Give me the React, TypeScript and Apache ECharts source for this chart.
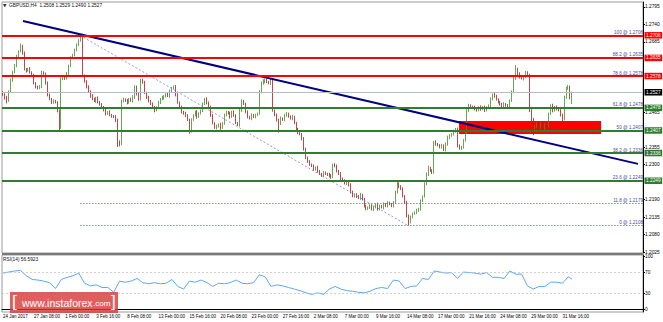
import React, { useEffect, useRef } from "react";
import * as echarts from "echarts";

const FONT = "'Liberation Sans', Arial, sans-serif";
const SLOTS = 330;
const TICK_STEP = 16;
const tickLabels = ["24 Jan 2017", "27 Jan 08:00", "1 Feb 00:00", "3 Feb 16:00", "8 Feb 08:00", "13 Feb 00:00", "15 Feb 16:00", "20 Feb 08:00", "23 Feb 00:00", "27 Feb 16:00", "2 Mar 08:00", "7 Mar 00:00", "9 Mar 16:00", "14 Mar 08:00", "17 Mar 00:00", "21 Mar 16:00", "24 Mar 08:00", "29 Mar 00:00", "31 Mar 16:00"];
// price-scale labels that are visible (the others sit under the level tags)
const yTicks = [1.2025, 1.208, 1.2135, 1.219, 1.23, 1.2355, 1.2465, 1.2685, 1.274, 1.2795];
const rsiTicks = [0, 30, 70, 100];
const Y_MIN = 1.20219;
const Y_MAX = 1.28107;

// prices in pips above 1.2000
const firstOpen = 525;
const closes = [
  520, 510, 500, 530, 565, 590, 610, 640, 655, 670,
  650, 600, 595, 600, 590, 580, 555, 545, 540, 545,
  590, 585, 555, 520, 505, 495, 500, 495, 470, 415,
  570, 575, 570, 585, 610, 635, 645, 660, 675, 690,
  700, 580, 560, 545, 530, 515, 505, 500, 510, 495,
  490, 480, 470, 460, 465, 455, 452, 450, 440, 370,
  365, 500, 505, 500, 495, 505, 500, 510, 545, 520,
  505, 565, 560, 525, 510, 500, 490, 480, 470, 480,
  495, 505, 510, 515, 520, 515, 530, 540, 545, 520,
  495, 480, 465, 460, 455, 440, 405, 440, 455, 465,
  450, 460, 470, 490, 505, 495, 480, 455, 430, 415,
  420, 425, 415, 430, 455, 465, 460, 450, 465, 455,
  430, 425, 470, 500, 490, 465, 450, 445, 455, 450,
  455, 460, 530, 555, 560, 565, 560, 555, 565, 470,
  455, 440, 430, 445, 440, 455, 460, 450, 445, 450,
  430, 410, 400, 395, 380, 350, 320, 310, 300, 295,
  285, 290, 280, 270, 265, 275, 270, 268, 265, 260,
  300, 295, 280, 270, 255, 250, 240, 245, 235, 215,
  200, 205, 200, 195, 205, 190, 170, 160, 165, 170,
  160, 165, 175, 160, 170, 165, 175, 170, 180, 175,
  170, 180, 215, 240, 230, 225, 200, 180, 140, 120,
  135, 145, 150, 155, 160, 185, 200, 240, 270, 290,
  280, 275, 370, 365, 360, 355, 360, 345, 365, 385,
  390, 395, 405, 410, 360, 350, 355, 375, 400, 470,
  485, 482, 480, 475, 470, 480, 475, 480, 470, 480,
  485, 505, 520, 515, 505, 495, 490, 480, 490, 485,
  480, 500, 530, 570, 600, 585, 575, 570, 575, 590,
  580, 470, 440, 410, 420, 430, 415, 430, 410, 425,
  420, 460, 485, 470, 480, 475, 470, 455, 445, 510,
  540, 545, 508, 527,
];
const wickHi = [
  5, 4, 6, 3, 5, 4, 6, 5, 4, 10, 6, 5, 3, 4, 6, 3, 5, 4, 3, 4,
  5, 3, 4, 6, 3, 4, 5, 3, 4, 3, 4, 5, 3, 6, 4, 5, 3, 4, 5, 4,
  6, 4, 3, 5, 4, 3, 6, 5, 3, 4, 5, 3, 4, 6, 3, 5, 4, 3, 5, 4,
  6, 4, 5, 3, 6, 4, 5, 8, 4, 3, 6, 4, 5, 3, 4, 6, 3, 5, 4, 3,
  5, 4, 6, 3, 4, 5, 6, 4, 3, 5, 4, 3, 5, 4, 6, 3, 4, 5, 3, 4,
  6, 4, 3, 5, 4, 6, 3, 5, 4, 3, 5, 4, 6, 3, 5, 4, 3, 6, 4, 5,
  3, 4, 6, 5, 3, 4, 5, 3, 6, 4, 5, 3, 4, 6, 8, 5, 4, 3, 5, 4,
  3, 5, 4, 6, 3, 4, 5, 3, 4, 6, 3, 4, 5, 3, 4, 6, 3, 5, 4, 3,
  5, 4, 6, 3, 4, 5, 3, 4, 6, 5, 3, 4, 5, 3, 6, 4, 3, 5, 4, 6,
  3, 4, 5, 4, 6, 3, 5, 4, 3, 5, 4, 6, 3, 5, 4, 3, 6, 4, 5, 3,
  4, 5, 3, 6, 4, 5, 3, 4, 6, 3, 5, 4, 3, 6, 4, 5, 3, 4, 5, 6,
  3, 5, 4, 6, 3, 4, 5, 3, 4, 6, 5, 3, 4, 5, 6, 3, 4, 5, 3, 4,
  6, 4, 3, 5, 4, 3, 6, 4, 5, 3, 4, 6, 3, 5, 4, 3, 5, 4, 6, 3,
  5, 4, 3, 6, 13, 4, 5, 3, 6, 4, 3, 5, 4, 6, 3, 4, 5, 3, 4, 6,
  5, 3, 4, 6, 4, 5, 3, 4, 5, 6, 4, 5, 3, 2,
];
const wickLo = [
  4, 6, 8, 3, 4, 5, 3, 4, 5, 3, 5, 4, 6, 3, 4, 5, 3, 6, 4, 3,
  5, 3, 4, 6, 3, 5, 4, 3, 6, 10, 3, 5, 4, 3, 6, 4, 3, 5, 4, 3,
  4, 5, 3, 6, 4, 5, 3, 4, 6, 3, 5, 4, 3, 6, 4, 3, 5, 4, 6, 15,
  8, 4, 5, 3, 6, 4, 3, 5, 4, 3, 5, 4, 6, 3, 4, 5, 3, 4, 6, 3,
  4, 5, 3, 6, 4, 3, 5, 4, 3, 6, 4, 3, 5, 4, 6, 3, 8, 5, 3, 4,
  6, 4, 3, 5, 4, 6, 3, 5, 4, 3, 5, 4, 6, 3, 5, 4, 3, 6, 4, 5,
  3, 4, 6, 5, 3, 4, 5, 3, 6, 4, 5, 3, 4, 6, 4, 5, 4, 3, 5, 4,
  3, 5, 30, 6, 3, 4, 5, 3, 4, 6, 3, 4, 5, 3, 4, 6, 3, 5, 4, 3,
  5, 4, 6, 3, 4, 5, 3, 4, 6, 5, 3, 4, 5, 3, 6, 4, 3, 5, 4, 6,
  3, 4, 5, 4, 6, 3, 5, 4, 3, 5, 4, 6, 3, 5, 4, 3, 6, 4, 5, 3,
  4, 5, 3, 6, 4, 5, 3, 4, 6, 12, 5, 4, 3, 6, 4, 5, 3, 4, 5, 6,
  3, 5, 4, 6, 3, 4, 5, 3, 4, 6, 5, 3, 4, 5, 6, 3, 4, 5, 3, 4,
  6, 4, 3, 5, 4, 3, 6, 4, 5, 3, 4, 6, 3, 5, 4, 3, 5, 4, 6, 3,
  5, 4, 3, 6, 4, 4, 5, 3, 6, 4, 3, 5, 4, 18, 3, 4, 5, 3, 4, 6,
  5, 3, 4, 6, 4, 5, 3, 4, 10, 6, 4, 5, 3, 18,
];

const RSI_STEP = 3;
const rsiValues = [
  68, 70, 72, 73, 63, 56, 55, 53, 50, 39,
  56, 60, 63, 68, 49, 44, 46, 41, 41, 32,
  53, 51, 53, 58, 50, 48, 50, 48, 49, 56,
  43, 38, 53, 51, 55, 50, 43, 49, 48, 50,
  55, 49, 48, 50, 65, 61, 43, 46, 44, 41,
  38, 35, 31, 28, 31, 28, 38, 43, 38, 35,
  34, 32, 31, 34, 39, 41, 39, 55, 53, 39,
  43, 44, 58, 56, 72, 70, 68, 69, 58, 70,
  69, 68, 66, 69, 60, 60, 58, 72, 66, 66,
  44, 38, 43, 43, 51, 51, 49, 61,
];
const rsiLast = 56.5923;

const redPcts = ["100", "88.2", "78.6"];
const redPrices = [1.2706, 1.2635, 1.2578];
const greenPcts = ["61.8", "50", "38.2", "23.6"];
const greenPrices = [1.2478, 1.2407, 1.2336, 1.2249];
const dotPcts = ["11.8", "0"];
const dotPrices = [1.2179, 1.2108];
const lastPrice = 1.2527;
const headerText = "GBPUSD,H4  1.2508 1.2529 1.2490 1.2527";

// drawn objects, in [bar index, price]
const trendLine = [[10.3, 1.2751], [326.9, 1.2302]];
const fibAnchor = [[39.7, 1.2706], [208.5, 1.2108]];
const zoneFrom = [234.8, 1.2437];
const zoneTo = [307.9, 1.2396];

const px = (p: number) => +(1.2 + p / 10000).toFixed(4);

function buildCandles() {
  const out: number[][] = [];
  for (let i = 0; i < closes.length; i++) {
    const o = i === 0 ? firstOpen : closes[i - 1];
    const c = closes[i];
    const lo = Math.min(o, c) - wickLo[i];
    const hi = Math.max(o, c) + wickHi[i];
    out.push([px(o), px(c), px(lo), px(hi)]);
  }
  return out;
}

export default function App() {
  const ref = useRef<HTMLDivElement>(null);
  useEffect(() => {
    if (!ref.current) return;
    const chart = echarts.init(ref.current, undefined, { renderer: "svg" });
    const cats = Array.from({ length: SLOTS }, (_, i) =>
      i % TICK_STEP === 0 && i / TICK_STEP < tickLabels.length ? tickLabels[i / TICK_STEP] : ""
    );
    const showTick = (_i: number, v: string) => v !== "";
    const rsiData: number[][] = rsiValues.map((v, k) => [k * RSI_STEP, v]);
    rsiData.push([closes.length - 1, rsiLast]);
    const firstX = -0.5;
    const lastX = SLOTS - 0.5;

    const fibLabel = (pct: string, p: number) => ({
      show: true,
      position: "insideEndTop",
      formatter: `${pct} @ ${p.toFixed(4)}`,
      fontSize: 4.6,
      color: "#4848a8",
      distance: [0, 0.5],
      fontFamily: FONT,
    });
    const level = (p: number, x0: number, lineStyle: any, label: any) => [
      { coord: [x0, p], lineStyle, label },
      { coord: [lastX, p] },
    ];
    const tag = (p: number, bg: string) => [
      {
        coord: [lastX - 1, p],
        lineStyle: { color: "rgba(0,0,0,0)", width: 0.1 },
        label: {
          show: true,
          position: "end",
          formatter: p.toFixed(4),
          color: "#ffffff",
          backgroundColor: bg,
          padding: [1, 1.5, 0.5, 1.5],
          fontSize: 4.8,
          distance: 1.5,
          fontFamily: FONT,
        },
      },
      { coord: [lastX, p] },
    ];

    const option: any = {
      animation: false,
      backgroundColor: "#fff",
      textStyle: { fontFamily: FONT },
      grid: [
        { left: 2, right: 20, top: 2, height: 251, show: true, borderColor: "#9a9a9a", borderWidth: 1 },
        { left: 2, right: 20, top: 255, height: 57, show: true, borderColor: "#9a9a9a", borderWidth: 1 },
      ],
      xAxis: [
        { type: "category", gridIndex: 0, data: cats, boundaryGap: true, show: false },
        {
          type: "category",
          gridIndex: 1,
          data: cats,
          boundaryGap: true,
          axisLine: { lineStyle: { color: "#000" } },
          axisTick: { interval: showTick, alignWithLabel: true, length: 2.5, lineStyle: { color: "#000" } },
          axisLabel: { interval: showTick, align: "left", fontSize: 4.5, color: "#000", margin: 1.5, fontFamily: FONT },
          splitLine: { show: false },
        },
        { type: "value", gridIndex: 0, min: firstX, max: lastX, show: false },
        { type: "value", gridIndex: 1, min: firstX, max: lastX, show: false },
      ],
      yAxis: [
        {
          type: "value",
          gridIndex: 0,
          position: "right",
          min: Y_MIN,
          max: Y_MAX,
          splitLine: { show: false },
          axisLine: { show: true, onZero: false, lineStyle: { color: "#000" } },
          axisTick: { show: true, length: 2, customValues: yTicks, lineStyle: { color: "#000" } },
          axisLabel: { customValues: yTicks, formatter: (v: number) => v.toFixed(4), fontSize: 4.8, color: "#000", margin: 2, fontFamily: FONT },
        },
        {
          type: "value",
          gridIndex: 1,
          position: "right",
          min: -5,
          max: 102,
          splitLine: { show: false },
          axisLine: { show: true, onZero: false, lineStyle: { color: "#000" } },
          axisTick: { show: true, length: 2, customValues: rsiTicks, lineStyle: { color: "#000" } },
          axisLabel: { customValues: rsiTicks, fontSize: 4.8, color: "#000", margin: 2, fontFamily: FONT },
        },
      ],
      series: [
        {
          name: "zone",
          type: "line",
          xAxisIndex: 2,
          yAxisIndex: 0,
          data: [],
          z: 1,
          markArea: {
            silent: true,
            itemStyle: { color: "#ff0000" },
            data: [[{ coord: zoneFrom }, { coord: zoneTo }]],
          },
        },
        {
          name: "GBPUSD",
          type: "candlestick",
          xAxisIndex: 0,
          yAxisIndex: 0,
          data: buildCandles(),
          barWidth: 1.2,
          z: 2,
          itemStyle: { color: "#3f8f2a", color0: "#a81c1c", borderColor: "#3f8f2a", borderColor0: "#a81c1c", borderWidth: 0.8 },
        },
        {
          name: "levels",
          type: "line",
          xAxisIndex: 2,
          yAxisIndex: 0,
          data: [],
          z: 3,
          markLine: {
            silent: true,
            symbol: ["none", "none"],
            data: [
              level(lastPrice, firstX, { color: "#b4bcc8", width: 1, type: "solid" }, { show: false }),
              ...redPrices.map((p, k) => level(p, firstX, { color: "#ff0000", width: 1.8, type: "solid" }, fibLabel(redPcts[k], p))),
              ...greenPrices.map((p, k) => level(p, firstX, { color: "#2f7d2f", width: 1.8, type: "solid" }, fibLabel(greenPcts[k], p))),
              ...dotPrices.map((p, k) => level(p, fibAnchor[0][0], { color: "#6a6ad0", width: 0.8, type: [1.5, 1.5] }, fibLabel(dotPcts[k], p))),
            ],
          },
        },
        {
          name: "fib",
          type: "line",
          xAxisIndex: 2,
          yAxisIndex: 0,
          data: fibAnchor,
          symbol: "none",
          z: 3,
          lineStyle: { color: "#7a7ad4", width: 0.8, type: [2, 2] },
        },
        {
          name: "trend",
          type: "line",
          xAxisIndex: 2,
          yAxisIndex: 0,
          data: trendLine,
          symbol: "none",
          z: 4,
          lineStyle: { color: "#000080", width: 2 },
        },
        {
          name: "tags",
          type: "line",
          xAxisIndex: 2,
          yAxisIndex: 0,
          data: [],
          z: 5,
          markLine: {
            silent: true,
            symbol: ["none", "none"],
            data: [
              ...redPrices.map((p) => tag(p, "#ff0000")),
              tag(lastPrice, "#000000"),
              ...greenPrices.map((p) => tag(p, "#2f7d2f")),
            ],
          },
        },
        {
          name: "RSI(14)",
          type: "line",
          xAxisIndex: 3,
          yAxisIndex: 1,
          data: rsiData,
          symbol: "none",
          z: 3,
          lineStyle: { color: "#5aa8f5", width: 1 },
          markLine: {
            silent: true,
            symbol: ["none", "none"],
            label: { show: false },
            lineStyle: { color: "#c4c4c4", width: 0.8, type: [2, 2] },
            data: [
              [{ coord: [firstX, 70] }, { coord: [lastX, 70] }],
              [{ coord: [firstX, 30] }, { coord: [lastX, 30] }],
            ],
          },
        },
      ],
      graphic: [
        { type: "rect", shape: { x: 2, y: 253, width: 641, height: 2 }, style: { fill: "#7a7a7a" }, z: 10 },
        { type: "text", x: 3, y: 3.2, style: { text: "▼", fontSize: 4.5, fill: "#333", fontFamily: "'DejaVu Sans', sans-serif" }, z: 10 },
        { type: "text", x: 9, y: 3, style: { text: headerText, fontSize: 4.8, fill: "#111", fontFamily: FONT }, z: 10 },
        { type: "text", x: 3, y: 257, style: { text: "RSI(14) " + rsiLast.toFixed(4), fontSize: 4.8, fill: "#111", fontFamily: FONT }, z: 10 },
        { type: "rect", shape: { x: 10, y: 292, width: 108, height: 21 }, style: { fill: "rgba(215,55,55,0.8)" }, z: 20 },
        { type: "text", x: 12, y: 293, style: { text: "[", fontSize: 17, fill: "#fff", fontFamily: FONT }, z: 21 },
        { type: "text", x: 22, y: 297, style: { text: "www.instaforex", fontSize: 10.5, fill: "#fff", fontFamily: FONT }, z: 21 },
        { type: "text", x: 93, y: 299.5, style: { text: ".com", fontSize: 8, fill: "#fff", fontFamily: FONT }, z: 21 },
        { type: "text", x: 111, y: 293, style: { text: "]", fontSize: 17, fill: "#fff", fontFamily: FONT }, z: 21 },
      ],
    };
    chart.setOption(option);
    return () => chart.dispose();
  }, []);
  return (
    <div
      ref={ref}
      style={{ position: "fixed", left: 0, top: 0, width: 663, height: 322, background: "#fff" }}
    />
  );
}
